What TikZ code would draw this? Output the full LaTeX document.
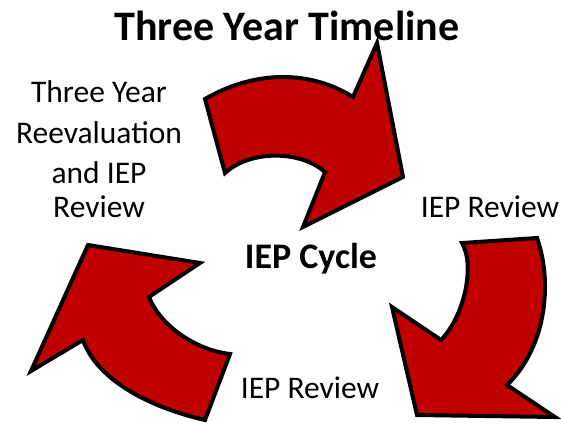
\documentclass[tikz,border=0pt]{standalone}
\usepackage{fontspec}
\setmainfont{Carlito}
\usepackage{xcolor}
\usepackage{tikz}

\definecolor{arrowred}{HTML}{C00000}

\begin{document}
\begin{tikzpicture}[
    x=1pt, y=-1pt,
    blockarrow/.style={draw=black, fill=arrowred, line width=4pt, line join=miter},
    lbl/.style={anchor=base, inner sep=0pt, font=\fontsize{31.5}{36}\selectfont},
    heading/.style={anchor=base, inner sep=0pt, font=\bfseries\fontsize{42}{48}\selectfont},
    hub/.style={anchor=base, inner sep=0pt, font=\bfseries\fontsize{36}{42}\selectfont}
]
\useasboundingbox (0,0) rectangle (561,423);

% curved block arrows
\draw[blockarrow] (205,99) .. controls (255,70) and (310,70) .. (353,97)
    -- (377,43) -- (403,177) -- (303,227) -- (325,172)
    .. controls (300,150) and (250,150) .. (225,173) -- cycle;
\draw[blockarrow] (537,238) .. controls (552,280) and (548,345) .. (507,385)
    -- (555,417) -- (417,415) -- (392,307) -- (441,340)
    .. controls (465,315) and (475,265) .. (462,243) -- cycle;
\draw[blockarrow] (88,245) -- (200,263) -- (149,297)
    .. controls (160,325) and (195,350) .. (230,354) -- (205,420)
    .. controls (140,405) and (95,375) .. (83,340) -- (31,371) -- cycle;

% texts
\node[heading] (title) at (287,40) {Three Year Timeline};
\node[hub] (cycle) at (311,268) {IEP Cycle};
\node[lbl] (three) at (99,102) {Three Year};
\node[lbl] (reeval) at (99,143) {Reevaluation};
\node[lbl] (andiep) at (99,183) {and IEP};
\node[lbl] (review) at (99,217) {Review};
\node[lbl] (rightrev) at (490,217) {IEP Review};
\node[lbl] (lowrev) at (310,398) {IEP Review};

\end{tikzpicture}
\end{document}
